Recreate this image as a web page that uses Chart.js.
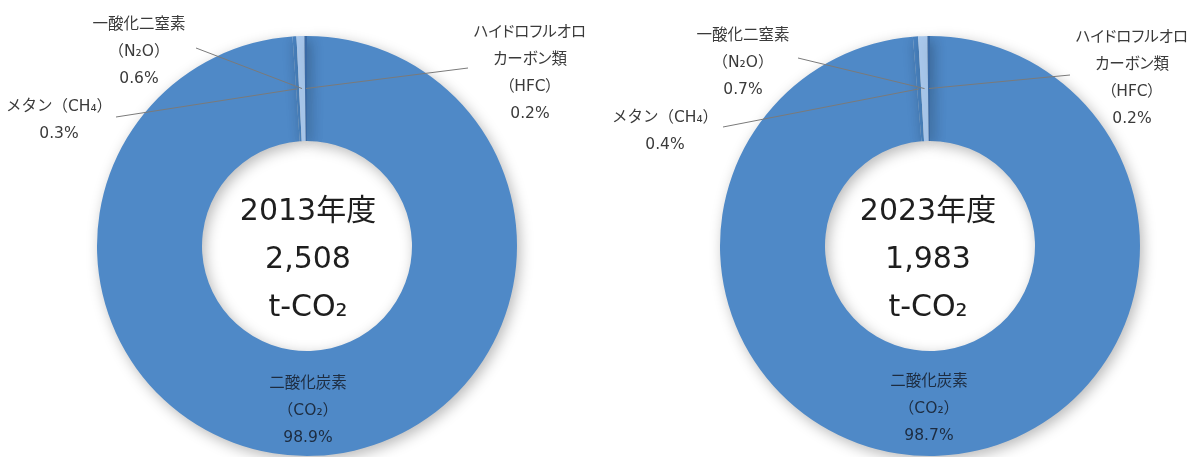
<!DOCTYPE html>
<html lang="ja">
<head>
  <meta charset="UTF-8" />
  <title>温室効果ガス排出量の内訳</title>
  <script src="https://cdn.jsdelivr.net/npm/chart.js"></script>
  <style>
    html, body { margin: 0; padding: 0; background: #fff; }
    #wrap { position: relative; width: 1192px; height: 457px; overflow: hidden;
            font-family: "DejaVu Sans", "Noto Sans CJK JP", sans-serif; }
    .box { position: absolute; top: 0; width: 596px; height: 457px; }
    .lbl { position: absolute; transform: translate(-50%, -50%); text-align: center;
           white-space: nowrap; font-size: 15.5px; line-height: 27px; color: #3a3a3a; }
    .lbl.narrow { font-feature-settings: "palt"; }
    .lbl.inside { color: #1d2c40; }
    .lbl.center { font-size: 30px; line-height: 48px; color: #1e1e1e; }
  </style>
</head>
<body>
  <div id="wrap">
    <div class="box" style="left:0"><canvas id="chart2013"></canvas></div>
    <div class="box" style="left:596px"><canvas id="chart2023"></canvas></div>
  </div>

  <script>
    // data
    const gasKeys = ['CO2', 'CH4', 'N2O', 'HFC'];
    const gasNames = ['二酸化炭素（CO₂）', 'メタン（CH₄）', '一酸化二窒素（N₂O）', 'ハイドロフルオロカーボン類（HFC）'];
    const gasNameLines = [['二酸化炭素', '（CO₂）'], ['メタン（CH₄）'], ['一酸化二窒素', '（N₂O）'], ['ハイドロフルオロ', 'カーボン類', '（HFC）']];
    const years = ['2013年度', '2023年度'];
    const totals = ['2,508', '1,983'];
    const unit = 't-CO₂';
    const share2013 = [98.9, 0.3, 0.6, 0.2];
    const share2023 = [98.7, 0.4, 0.7, 0.2];

    const sliceColors = ['#4f89c7', '#4a84c2', '#a9c8ec', '#3a6aa5'];

    // layout: label centres and leader-line start points, in page pixels
    const layouts = [
      {
        offsetX: 0,
        padding: { left: 97, right: 79, top: 36, bottom: 1 },
        center: [308, 258],
        labels: { CO2: [308, 410], CH4: [59, 120], N2O: [139, 51], HFC: [530, 73] },
        lineFrom: { CH4: [116, 117], N2O: [196, 48], HFC: [468, 68] }
      },
      {
        offsetX: 596,
        padding: { left: 124, right: 52, top: 36, bottom: 1 },
        center: [928, 258],
        labels: { CO2: [929, 408], CH4: [665, 131], N2O: [743, 62], HFC: [1132, 78] },
        lineFrom: { CH4: [723, 127], N2O: [798, 58], HFC: [1070, 75] }
      }
    ];

    const wrap = document.getElementById('wrap');

    function addLabel(x, y, html, cls) {
      const d = document.createElement('div');
      d.className = 'lbl' + (cls ? ' ' + cls : '');
      d.style.left = x + 'px';
      d.style.top = y + 'px';
      d.innerHTML = html;
      wrap.appendChild(d);
    }

    // soft shadow under the ring
    const shadowPlugin = {
      id: 'ringShadow',
      beforeDatasetDraw(chart) {
        const ctx = chart.ctx;
        ctx.save();
        ctx.shadowColor = 'rgba(0,0,0,0.28)';
        ctx.shadowBlur = 14;
        ctx.shadowOffsetX = 3;
        ctx.shadowOffsetY = 4;
      },
      afterDatasetDraw(chart) {
        chart.ctx.restore();
      }
    };

    // leader lines from label to middle of the slice
    const leaderPlugin = {
      id: 'leaders',
      afterDatasetsDraw(chart, args, opts) {
        const ctx = chart.ctx;
        const arcs = chart.getDatasetMeta(0).data;
        ctx.save();
        ctx.strokeStyle = '#7a7a7a';
        ctx.lineWidth = 1;
        gasKeys.forEach((k, i) => {
          const from = opts.lineFrom[k];
          if (!from) return;
          const p = arcs[i].tooltipPosition();
          ctx.beginPath();
          ctx.moveTo(from[0] - opts.offsetX, from[1]);
          ctx.lineTo(p.x, p.y);
          ctx.stroke();
        });
        ctx.restore();
      }
    };

    function makeChart(id, values, yearIdx) {
      const lay = layouts[yearIdx];
      new Chart(document.getElementById(id), {
        type: 'doughnut',
        data: {
          labels: gasNames,
          datasets: [{
            data: values,
            backgroundColor: sliceColors,
            borderWidth: 0
          }]
        },
        options: {
          responsive: true,
          maintainAspectRatio: false,
          animation: false,
          cutout: '50%',
          rotation: 0,
          layout: { padding: lay.padding },
          plugins: {
            legend: { display: false },
            tooltip: { enabled: false },
            leaders: { lineFrom: lay.lineFrom, offsetX: lay.offsetX }
          }
        },
        plugins: [shadowPlugin, leaderPlugin]
      });

      gasKeys.forEach((k, i) => {
        const pos = lay.labels[k];
        const html = gasNameLines[i].join('<br>') + '<br>' + values[i].toFixed(1) + '%';
        const cls = k === 'CO2' ? 'inside' : (k === 'HFC' ? 'narrow' : '');
        addLabel(pos[0], pos[1], html, cls);
      });
      addLabel(lay.center[0], lay.center[1], years[yearIdx] + '<br>' + totals[yearIdx] + '<br>' + unit, 'center');
    }

    makeChart('chart2013', share2013, 0);
    makeChart('chart2023', share2023, 1);
  </script>
</body>
</html>
